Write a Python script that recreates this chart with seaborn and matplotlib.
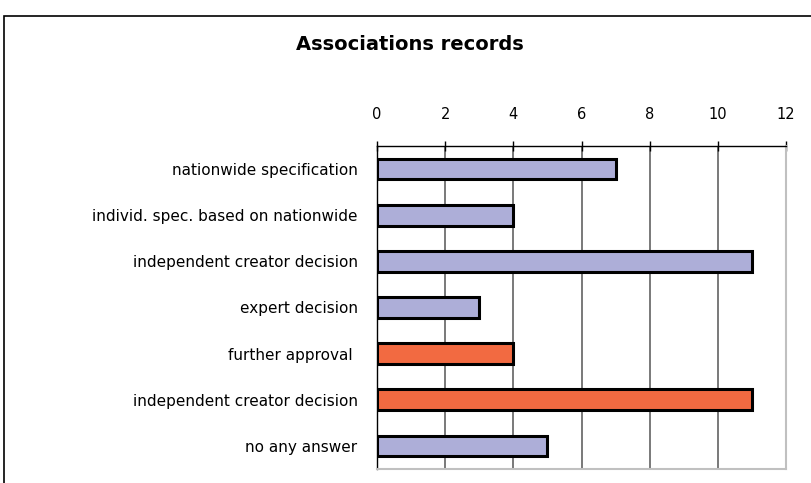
import matplotlib
matplotlib.use("Agg")
import matplotlib.pyplot as plt
import seaborn as sns
import pandas as pd
import numpy as np
from matplotlib.patches import Rectangle

categories = ["nationwide specification", "individ. spec. based on nationwide",
              "independent creator decision", "expert decision", "further approval ",
              "independent creator decision", "no any answer"]
values = [7, 4, 11, 3, 4, 11, 5]
groups = ["a", "a", "a", "a", "b", "b", "a"]
palette = {"a": "#adaed8", "b": "#f26a41"}
x_ticks = [0, 2, 4, 6, 8, 10, 12]

sns.set_style("white")
plt.rcParams['font.family'] = ['DejaVu Sans']
plt.rcParams['text.color'] = 'black'
plt.rcParams['xtick.color'] = 'black'
plt.rcParams['ytick.color'] = 'black'

df = pd.DataFrame({"key": [f"k{i}" for i in range(len(categories))],
                   "value": values, "group": groups})

fig = plt.figure(figsize=(8.11, 4.83), dpi=100)
ax = fig.add_axes([377/811, 1-469/483, (786-377)/811, (469-146)/483])

sns.barplot(data=df, y="key", x="value", hue="group", palette=palette,
            dodge=False, width=0.45, edgecolor="black", linewidth=2.2,
            saturation=1, legend=False, ax=ax, orient="h")

n = len(categories)
ax.set_ylim(n - 0.5, -0.5)
ax.set_xlim(0, 12)
ax.set_xticks(x_ticks)
ax.set_xticklabels([str(t) for t in x_ticks], fontsize=10.5)
ax.xaxis.tick_top()
ax.xaxis.set_label_position("top")
ax.tick_params(axis="x", which="major", length=7, width=1, direction="inout",
               pad=14, color="black", labelcolor="black")
ax.set_xlabel("")
ax.set_ylabel("")

ax.set_yticks(range(n))
ax.set_yticklabels(categories, fontsize=11)
ax.tick_params(axis="y", which="major", length=0, pad=14, labelcolor="black")
ax.set_yticks(np.arange(-0.5, n, 1.0), minor=True)
ax.tick_params(axis="y", which="minor", length=5, width=1, direction="out", color="black")

ax.grid(axis="x", color="#555555", linewidth=1.1)
ax.set_axisbelow(True)
for s in ["top", "left"]:
    ax.spines[s].set_color("black")
    ax.spines[s].set_linewidth(1)
for s in ["right", "bottom"]:
    ax.spines[s].set_visible(True)
    ax.spines[s].set_color("#c0c0c0")
    ax.spines[s].set_linewidth(1.5)

fig.text(410/811, 1-45/483, "Associations records", ha="center", va="center",
         fontsize=14, fontweight="bold")

fig.patches.append(Rectangle((4/811, -0.1), 1.2, 1 - 16/483 + 0.1,
                             transform=fig.transFigure, fill=False,
                             edgecolor="black", linewidth=1.2))

fig.savefig("out.png", dpi=100)
